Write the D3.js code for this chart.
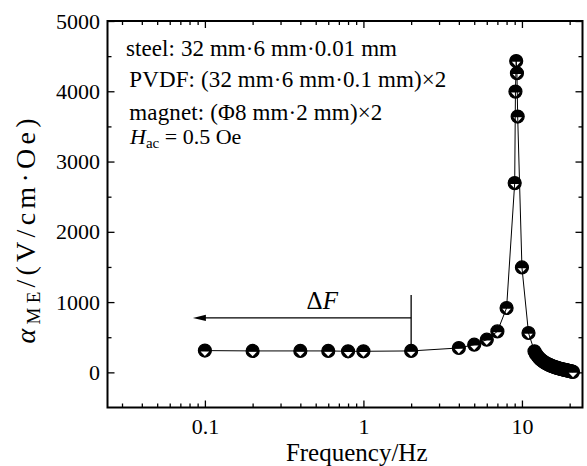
<!DOCTYPE html>
<html>
<head>
<meta charset="utf-8">
<script src="https://cdn.jsdelivr.net/npm/d3@7"></script>
<style>
  body { margin: 0; background: #fff; }
</style>
</head>
<body>
<div id="chart"></div>
<script>
// frequency (Hz) and magnetoelectric coefficient (V/cm·Oe)
const freqs = [0.1, 0.2, 0.4, 0.6, 0.8, 1, 2, 4, 5, 6, 7, 8, 9, 9.1, 9.2, 9.3, 9.4, 10, 11,
  12, 12.25, 12.5, 12.75, 13, 13.25, 13.5, 13.75, 14, 14.25, 14.5, 14.75, 15, 15.25, 15.5, 15.75,
  16, 16.25, 16.5, 16.75, 17, 17.25, 17.5, 17.75, 18, 18.25, 18.5, 18.75, 19, 19.25, 19.5, 19.75,
  20, 20.25, 20.5, 20.75, 21];
const alphaME = [310, 305, 305, 305, 300, 300, 305, 347, 394, 465, 583, 916, 2693, 3995, 4430, 4257, 3640, 1493, 560,
  299, 262, 235, 211, 192, 175, 161, 148, 137, 127, 118, 110, 102, 95, 89, 83,
  77, 72, 67, 63, 58, 54, 50, 47, 43, 40, 37, 34, 31, 28, 25, 22,
  19, 16, 13, 10, 7];

const xMajor = [0.1, 1, 10];
const xLabels = ["0.1", "1", "10"];
const yMajor = [0, 1000, 2000, 3000, 4000, 5000];
const yMinor = [500, 1500, 2500, 3500, 4500];

const notes = [
  "steel: 32 mm·6 mm·0.01 mm",
  "PVDF: (32 mm·6 mm·0.1 mm)×2",
  "magnet: (Φ8 mm·2 mm)×2"
];

const FONT = "Liberation Serif";

const W = 587, H = 466;
const margin = {top: 21, right: 4.5, bottom: 58.5, left: 107.5};
const width = W - margin.left - margin.right,
  height = H - margin.top - margin.bottom;

const svg = d3.select("#chart").append("svg")
  .attr("width", W).attr("height", H);
const g = svg.append("g")
  .attr("transform", `translate(${margin.left},${margin.top})`);

const x = d3.scaleLog().domain([0.0243, 24.1]).range([0, width]);
const y = d3.scaleLinear().domain([-500, 5000]).range([height, 0]);

const xMinor = x.ticks().filter(t => !xMajor.includes(t));

// ticks, pointing inward on all four sides
function ticks(axis, tr) {
  const a = g.append("g").attr("transform", tr).call(axis);
  a.attr("font-family", FONT).attr("font-size", 22);
  a.select(".domain").remove();
  a.selectAll("line").attr("stroke-width", 1.3);
  a.selectAll("text").attr("fill", "#000");
  return a;
}
ticks(d3.axisBottom(x).tickValues(xMajor).tickSize(-7).tickPadding(11)
  .tickFormat((d, i) => xLabels[i]), `translate(0,${height})`);
ticks(d3.axisBottom(x).tickValues(xMinor).tickSize(-4).tickFormat(""), `translate(0,${height})`);
ticks(d3.axisTop(x).tickValues(xMajor).tickSize(-7).tickFormat(""), "translate(0,0)");
ticks(d3.axisTop(x).tickValues(xMinor).tickSize(-4).tickFormat(""), "translate(0,0)");
ticks(d3.axisLeft(y).tickValues(yMajor).tickSize(-7).tickPadding(7.5)
  .tickFormat(d3.format("d")), "translate(0,0)");
ticks(d3.axisLeft(y).tickValues(yMinor).tickSize(-4).tickFormat(""), "translate(0,0)");
ticks(d3.axisRight(y).tickValues(yMajor).tickSize(-7).tickFormat(""), `translate(${width},0)`);
ticks(d3.axisRight(y).tickValues(yMinor).tickSize(-4).tickFormat(""), `translate(${width},0)`);

g.append("rect")
  .attr("width", width).attr("height", height)
  .attr("fill", "none").attr("stroke", "#000").attr("stroke-width", 2);

const pts = freqs.map((f, i) => [f, alphaME[i]]);

// markers: black circle with a white down-triangle in the lower half
const mk = g.append("g").selectAll("g")
  .data(pts).enter().append("g")
  .attr("transform", d => `translate(${x(d[0])},${y(d[1])})`);
mk.append("circle").attr("r", 6.5).attr("fill", "#000")
  .attr("stroke", "#000").attr("stroke-width", 1.2);
mk.append("path").attr("d", "M-4.3,0.8L4.3,0.8L0,5.4Z").attr("fill", "#fff");

g.append("path")
  .datum(pts)
  .attr("fill", "none")
  .attr("stroke", "#000")
  .attr("stroke-width", 1)
  .attr("d", d3.line().x(d => x(d[0])).y(d => y(d[1])));

function label(sel, size) {
  return sel.attr("font-family", FONT).attr("font-size", size).attr("fill", "#000");
}

// ΔF annotation
g.append("line")
  .attr("x1", x(2)).attr("x2", x(2))
  .attr("y1", y(1100)).attr("y2", y(305) - 6)
  .attr("stroke", "#000").attr("stroke-width", 1.3);
g.append("line")
  .attr("x1", x(2)).attr("x2", x(0.084) + 10)
  .attr("y1", y(775)).attr("y2", y(775))
  .attr("stroke", "#000").attr("stroke-width", 1.3);
g.append("path")
  .attr("d", `M${x(0.084)},${y(775)}l13,-3.2l0,6.4Z`)
  .attr("fill", "#000");
const dF = label(g.append("text"), 25)
  .attr("x", x(0.55)).attr("y", 288.3)
  .attr("text-anchor", "middle");
dF.append("tspan").text("Δ");
dF.append("tspan").attr("font-style", "italic").text("F");

// parameter notes
const noteX = [18.5, 21.8, 21.8];
const noteY = [34.5, 66.3, 99];
const noteW = [271, 317, 253];
notes.forEach((t, i) => {
  label(g.append("text"), 23)
    .attr("x", noteX[i]).attr("y", noteY[i])
    .attr("textLength", noteW[i]).attr("lengthAdjust", "spacing")
    .text(t);
});
const hac = label(g.append("text"), 22)
  .attr("x", 22.5).attr("y", 123);
hac.append("tspan").attr("font-style", "italic").text("H");
hac.append("tspan").attr("dy", 4).attr("font-size", 15).text("ac");
hac.append("tspan").attr("dy", -4).text(" = 0.5 Oe");

// axis titles
label(svg.append("text"), 25)
  .attr("x", 356.7).attr("y", 461)
  .attr("text-anchor", "middle")
  .text("Frequency/Hz");

const yt = label(svg.append("text"), 28)
  .attr("transform", "translate(35,231) rotate(-90)")
  .attr("text-anchor", "middle")
  .attr("textLength", 225).attr("lengthAdjust", "spacing");
yt.append("tspan").attr("font-style", "italic").text("α");
yt.append("tspan").attr("dy", 5).attr("font-size", 19).text("ME");
yt.append("tspan").attr("dy", -5).text("/(V/cm·Oe)");
</script>
</body>
</html>
